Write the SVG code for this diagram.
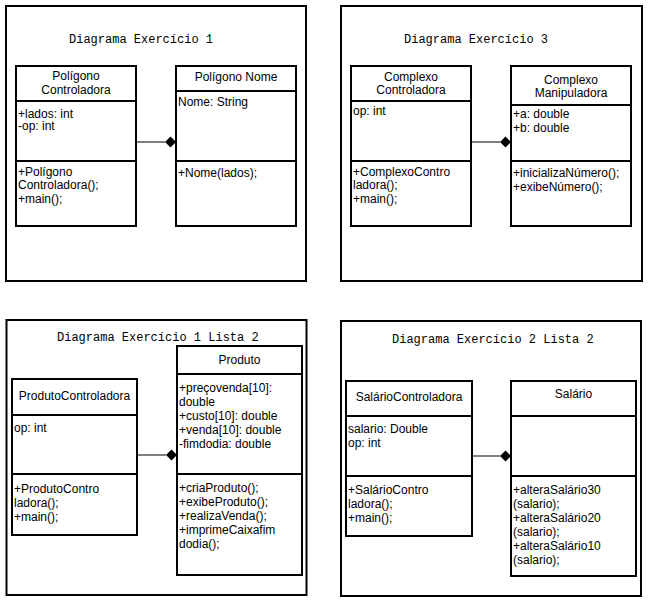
<svg xmlns="http://www.w3.org/2000/svg" width="648" height="603" viewBox="0 0 648 603">
  <style>
    .frame { fill: #fff; stroke: #000; stroke-width: 2; }
    .box { fill: #fff; stroke: #000; stroke-width: 2; }
    .div { stroke: #000; stroke-width: 2; }
    .title { font-family: "Liberation Mono", "DejaVu Sans Mono", monospace; font-size: 12px; fill: #000; }
    .t { font-family: "Liberation Sans", Arial, sans-serif; font-size: 12px; fill: #000; }
    .c { text-anchor: middle; }
    .link { stroke: #000; stroke-width: 1; fill: none; }
    .dia { fill: #000; }
  </style>
  <rect width="648" height="603" fill="#fff"/>

  <!-- Frames -->
  <g id="frames">
    <rect class="frame" x="6" y="6" width="300" height="275"/>
    <rect class="frame" x="341" y="6" width="301" height="275"/>
    <rect class="frame" x="6.5" y="320" width="300" height="275"/>
    <rect class="frame" x="341" y="321" width="300" height="275"/>
  </g>

  <!-- Titles -->
  <g id="titles">
    <text class="title" x="69" y="43">Diagrama Exercício 1</text>
    <text class="title" x="404" y="43">Diagrama Exercício 3</text>
    <text class="title" x="57" y="341">Diagrama Exercício 1 Lista 2</text>
    <text class="title" x="392" y="343">Diagrama Exercício 2 Lista 2</text>
  </g>

  <!-- Exercício 1 -->
  <g id="poligono-controladora">
    <rect class="box" x="16" y="66" width="120" height="160"/>
    <line class="div" x1="16" y1="101" x2="136" y2="101"/>
    <line class="div" x1="16" y1="161" x2="136" y2="161"/>
    <text class="t c" x="76" y="80">Polígono</text>
    <text class="t c" x="76" y="94">Controladora</text>
    <text class="t" x="18" y="117.5">+lados: int</text>
    <text class="t" x="18" y="130">-op: int</text>
    <text class="t" x="18" y="175.5">+Polígono</text>
    <text class="t" x="18" y="189">Controladora();</text>
    <text class="t" x="18" y="203">+main();</text>
  </g>
  <g id="poligono-nome">
    <rect class="box" x="176" y="66" width="120" height="160"/>
    <line class="div" x1="176" y1="91" x2="296" y2="91"/>
    <line class="div" x1="176" y1="161" x2="296" y2="161"/>
    <text class="t c" x="236" y="80.5">Polígono Nome</text>
    <text class="t" x="178" y="105.5">Nome: String</text>
    <text class="t" x="178" y="176.5">+Nome(lados);</text>
  </g>

  <!-- Exercício 3 -->
  <g id="complexo-controladora">
    <rect class="box" x="351" y="66" width="120" height="160"/>
    <line class="div" x1="351" y1="101" x2="471" y2="101"/>
    <line class="div" x1="351" y1="161" x2="471" y2="161"/>
    <text class="t c" x="411" y="80.5">Complexo</text>
    <text class="t c" x="411" y="94">Controladora</text>
    <text class="t" x="353" y="114.5">op: int</text>
    <text class="t" x="353" y="175.5">+ComplexoContro</text>
    <text class="t" x="353" y="189">ladora();</text>
    <text class="t" x="353" y="203">+main();</text>
  </g>
  <g id="complexo-manipuladora">
    <rect class="box" x="511" y="66" width="120" height="160"/>
    <line class="div" x1="511" y1="105" x2="631" y2="105"/>
    <line class="div" x1="511" y1="161" x2="631" y2="161"/>
    <text class="t c" x="571" y="83.5">Complexo</text>
    <text class="t c" x="571" y="97">Manipuladora</text>
    <text class="t" x="513" y="117.5">+a: double</text>
    <text class="t" x="513" y="131.5">+b: double</text>
    <text class="t" x="513" y="176.5">+inicializaNúmero();</text>
    <text class="t" x="513" y="190.5">+exibeNúmero();</text>
  </g>

  <!-- Exercício 1 Lista 2 -->
  <g id="produto-controladora">
    <rect class="box" x="12" y="379" width="125" height="156"/>
    <line class="div" x1="12" y1="415" x2="137" y2="415"/>
    <line class="div" x1="12" y1="474" x2="137" y2="474"/>
    <text class="t c" x="74.5" y="399.5">ProdutoControladora</text>
    <text class="t" x="14" y="431.5">op: int</text>
    <text class="t" x="14" y="492.5">+ProdutoContro</text>
    <text class="t" x="14" y="506.5">ladora();</text>
    <text class="t" x="14" y="520.5">+main();</text>
  </g>
  <g id="produto">
    <rect class="box" x="177" y="346" width="125" height="229"/>
    <line class="div" x1="177" y1="374" x2="302" y2="374"/>
    <line class="div" x1="177" y1="474" x2="302" y2="474"/>
    <text class="t c" x="239.5" y="363.5">Produto</text>
    <text class="t" x="179" y="391.5">+preçovenda[10]:</text>
    <text class="t" x="179" y="405.5">double</text>
    <text class="t" x="179" y="419.5">+custo[10]: double</text>
    <text class="t" x="179" y="433.5">+venda[10]: double</text>
    <text class="t" x="179" y="447.5">-fimdodia: double</text>
    <text class="t" x="179" y="491.5">+criaProduto();</text>
    <text class="t" x="179" y="505.5">+exibeProduto();</text>
    <text class="t" x="179" y="519.5">+realizaVenda();</text>
    <text class="t" x="179" y="533.5">+imprimeCaixafim</text>
    <text class="t" x="179" y="547.5">dodia();</text>
  </g>

  <!-- Exercício 2 Lista 2 -->
  <g id="salario-controladora">
    <rect class="box" x="346" y="381" width="126" height="155"/>
    <line class="div" x1="346" y1="416" x2="472" y2="416"/>
    <line class="div" x1="346" y1="476" x2="472" y2="476"/>
    <text class="t c" x="409" y="400.5">SalárioControladora</text>
    <text class="t" x="348" y="432.5">salario: Double</text>
    <text class="t" x="348" y="446.5">op: int</text>
    <text class="t" x="348" y="493.5">+SalárioContro</text>
    <text class="t" x="348" y="507.5">ladora();</text>
    <text class="t" x="348" y="521.5">+main();</text>
  </g>
  <g id="salario">
    <rect class="box" x="511" y="381" width="125" height="195"/>
    <line class="div" x1="511" y1="416" x2="636" y2="416"/>
    <line class="div" x1="511" y1="476" x2="636" y2="476"/>
    <text class="t c" x="573.5" y="397.5">Salário</text>
    <text class="t" x="513" y="493.5">+alteraSalário30</text>
    <text class="t" x="513" y="507.5">(salario);</text>
    <text class="t" x="513" y="521.5">+alteraSalário20</text>
    <text class="t" x="513" y="535.5">(salario);</text>
    <text class="t" x="513" y="549.5">+alteraSalário10</text>
    <text class="t" x="513" y="563.5">(salario);</text>
  </g>

  <!-- Composition connectors (filled diamond at the whole end) -->
  <g id="connectors">
    <line class="link" x1="136" y1="142" x2="165" y2="142"/>
    <polygon class="dia" points="165,142 170.5,136.5 176,142 170.5,147.5"/>
    <line class="link" x1="471" y1="142" x2="500" y2="142"/>
    <polygon class="dia" points="500,142 505.5,136.5 511,142 505.5,147.5"/>
    <line class="link" x1="137" y1="455" x2="166" y2="455"/>
    <polygon class="dia" points="166,455 171.5,449.5 177,455 171.5,460.5"/>
    <line class="link" x1="472" y1="456" x2="500" y2="456"/>
    <polygon class="dia" points="500,456 505.5,450.5 511,456 505.5,461.5"/>
  </g>
</svg>
